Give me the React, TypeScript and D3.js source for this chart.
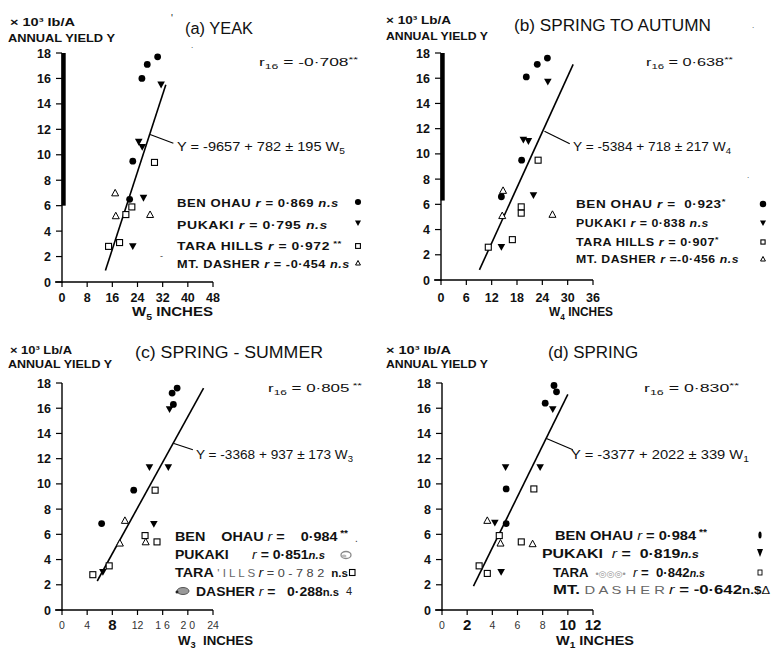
import React from "react";
import * as d3 from "d3";

const FONT = "'Liberation Sans', 'DejaVu Sans', Arial, sans-serif";

type Pt = [number, number];

// shared y axis
const yTicks = [0, 2, 4, 6, 8, 10, 12, 14, 16, 18];

// ---------- (a) YEAR, W5 ----------
const aXTicks = [0, 8, 16, 24, 32, 40, 48];
const aXTickLabels = ["0", "8", "16", "24", "32", "40", "48"];
const aBenOhau: Pt[] = [[27.1, 17.1], [30.4, 17.7], [25.4, 16.0], [22.5, 9.5], [21.5, 6.5]];
const aPukaki: Pt[] = [[31.5, 15.5], [24.4, 11.0], [25.5, 10.6], [25.9, 6.6], [22.5, 2.8]];
const aTaraHills: Pt[] = [[29.4, 9.4], [22.2, 5.9], [20.3, 5.3], [18.3, 3.1], [14.8, 2.8]];
const aMtDasher: Pt[] = [[16.9, 7.0], [17.1, 5.2], [28.0, 5.3]];
const aFit: Pt[] = [[13.8, 0.9], [33.0, 15.5]];
const aLeader: Pt[] = [[28.0, 11.6], [35.4, 10.9]];

// ---------- (b) SPRING TO AUTUMN, W4 ----------
const bXTicks = [0, 6, 12, 18, 24, 30, 36];
const bXTickLabels = ["0", "6", "12", "18", "24", "30", "36"];
const bBenOhau: Pt[] = [[20.2, 16.1], [22.8, 17.1], [25.2, 17.6], [19.1, 9.5], [14.3, 6.6]];
const bPukaki: Pt[] = [[25.3, 15.7], [19.5, 11.1], [20.7, 11.0], [21.9, 6.7], [14.3, 2.6]];
const bTaraHills: Pt[] = [[23.0, 9.5], [19.0, 5.8], [19.0, 5.3], [16.9, 3.2], [11.2, 2.6]];
const bMtDasher: Pt[] = [[14.7, 7.1], [14.5, 5.1], [26.4, 5.2]];
const bFit: Pt[] = [[9.1, 0.8], [31.3, 17.1]];
const bLeader: Pt[] = [[24.5, 11.8], [30.5, 10.8]];

// ---------- (c) SPRING - SUMMER, W3 ----------
const cXTicks = [0, 4, 8, 12, 16, 20, 24];
const cXTickLabels = ["0", "4", "8", "12", "1 6", "2 0", "24"];
const cXTickBig = [false, false, true, false, false, false, false];
const cBenOhau: Pt[] = [[18.3, 17.6], [17.5, 17.2], [17.7, 16.3], [11.4, 9.5], [6.3, 6.85]];
const cPukaki: Pt[] = [[17.1, 15.9], [13.9, 11.3], [16.9, 11.3], [14.6, 6.8], [6.5, 3.0]];
const cTaraHills: Pt[] = [[14.8, 9.5], [13.2, 5.9], [15.1, 5.4], [7.5, 3.5], [4.9, 2.8]];
const cMtDasher: Pt[] = [[10.0, 7.1], [9.2, 5.3], [13.3, 5.4]];
const cFit: Pt[] = [[5.6, 2.3], [22.5, 17.6]];
const cLeader: Pt[] = [[17.8, 13.2], [20.8, 12.7]];

// ---------- (d) SPRING, W1 ----------
const dXTicks = [0, 2, 4, 6, 8, 10, 12];
const dXTickLabels = ["0", "2", "4", "6", "8", "10", "12"];
const dXTickBig = [false, true, false, false, false, true, true];
const dBenOhau: Pt[] = [[8.9, 17.8], [9.1, 17.3], [8.2, 16.4], [5.1, 9.6], [5.1, 6.85]];
const dPukaki: Pt[] = [[8.8, 15.9], [5.05, 11.3], [7.8, 11.3], [4.2, 6.9], [4.7, 3.0]];
const dTaraHills: Pt[] = [[7.3, 9.6], [4.55, 5.9], [6.3, 5.4], [2.95, 3.5], [3.6, 2.9]];
const dMtDasher: Pt[] = [[3.6, 7.1], [4.65, 5.3], [7.2, 5.25]];
const dFit: Pt[] = [[2.5, 1.9], [10.0, 17.1]];
const dLeader: Pt[] = [[8.3, 13.6], [10.4, 12.7]];

type Seg = { t: string; sup?: boolean; sub?: boolean; fill?: string; w?: any; it?: boolean; fs?: number; ls?: number };

function Rich({ x, y, segs, fs, w = "normal", tl, anchor = "start", ls }: any) {
  let shift = 0;
  return (
    <text x={x} y={y} fontSize={fs} fontWeight={w} fontFamily={FONT} textAnchor={anchor} xmlSpace="preserve"
      style={{ whiteSpace: "pre" }}
      textLength={tl} lengthAdjust={tl ? "spacingAndGlyphs" : undefined} letterSpacing={ls} fill="#111">
      {(segs as Seg[]).map((s, i) => {
        const target = s.sup ? -0.38 * fs : s.sub ? 0.28 * fs : 0;
        const dy = target - shift;
        shift = target;
        return (
          <tspan key={i} dy={dy === 0 ? undefined : dy} fontSize={s.sup || s.sub ? fs * 0.7 : s.fs}
            fill={s.fill} fontWeight={s.w} fontStyle={s.it ? "italic" : undefined} letterSpacing={s.ls}>
            {s.t}
          </tspan>
        );
      })}
    </text>
  );
}

function Marker({ kind, cx, cy, s = 1 }: any) {
  if (kind === 0) return <circle cx={cx} cy={cy} r={3.4 * s} fill="#000" />;
  if (kind === 1)
    return <path d={`M${cx - 3.8 * s},${cy - 3.2 * s}L${cx + 3.8 * s},${cy - 3.2 * s}L${cx},${cy + 3.6 * s}Z`} fill="#000" />;
  if (kind === 2)
    return <rect x={cx - 3 * s} y={cy - 3 * s} width={6 * s} height={6 * s} fill="#fff" stroke="#000" strokeWidth={1.1} />;
  return <path d={`M${cx},${cy - 3.6 * s}L${cx + 3.5 * s},${cy + 2.9 * s}L${cx - 3.5 * s},${cy + 2.9 * s}Z`} fill="#fff" stroke="#000" strokeWidth={1} />;
}

function Plot({ xDomain, xRange, yRange, xTicks, xLabels, xBig, series, fit, leader, bar, labelDy = 15 }: any) {
  const x = d3.scaleLinear().domain(xDomain).range(xRange);
  const y = d3.scaleLinear().domain([0, 18]).range(yRange);
  const line = d3.line<Pt>().x((d) => x(d[0])).y((d) => y(d[1]));
  const x0 = x(xDomain[0]);
  return (
    <g>
      {bar && <rect x={x0 - 0.5} y={y(bar[0])} width={4.2} height={y(bar[1]) - y(bar[0])} fill="#000" />}
      <line x1={x0} x2={x0} y1={y(0) + 1} y2={y(18)} stroke="#000" strokeWidth={1.4} />
      <line x1={x0 - 7} x2={x(xDomain[1])} y1={y(0)} y2={y(0)} stroke="#000" strokeWidth={1.4} />
      {yTicks.map((v) => (
        <g key={v}>
          <line x1={x0 - 6} x2={x0} y1={y(v)} y2={y(v)} stroke="#000" strokeWidth={1.2} />
          <text x={x0 - 11} y={y(v)} dy="0.36em" textAnchor="end" fontFamily={FONT} fontWeight="bold" fontSize={12.5} fill="#111">
            {v}
          </text>
        </g>
      ))}
      {xTicks.map((v: number, i: number) => {
        const big = xBig ? xBig[i] : true;
        return (
          <g key={v}>
            <line x1={x(v)} x2={x(v)} y1={y(0)} y2={y(0) + 5} stroke="#000" strokeWidth={1.2} />
            <text x={x(v)} y={y(0) + labelDy} dy="0.36em" textAnchor="middle" fontFamily={FONT}
              fontWeight={big ? "bold" : "normal"} fontSize={xBig ? (big ? 15 : 10.5) : 12.5} fill={big ? "#111" : "#333"}>
              {xLabels[i]}
            </text>
          </g>
        );
      })}
      <path d={line(fit) || ""} stroke="#000" strokeWidth={1.6} fill="none" />
      <path d={line(leader) || ""} stroke="#000" strokeWidth={1.1} fill="none" />
      {series.map((pts: Pt[], k: number) =>
        pts.map((p, i) => <Marker key={k + "-" + i} kind={k} cx={x(p[0])} cy={y(p[1])} />)
      )}
    </g>
  );
}

const B = (c: number, fs: number) => c + fs * 0.36;

export default function App() {
  const lg = 11.5;
  const big = 13;
  return (
    <svg width={772} height={652} style={{ display: "block", position: "absolute", left: 0, top: 0, background: "#fff" }}>
      <rect width={772} height={652} fill="#fff" />
      {/* ---------------- (a) ---------------- */}
      <Plot xDomain={[0, 48]} xRange={[62, 213]} yRange={[282, 53]} xTicks={aXTicks} xLabels={aXTickLabels}
        series={[aBenOhau, aPukaki, aTaraHills, aMtDasher]} fit={aFit} leader={aLeader} bar={[18, 6]} />
      <Rich x={10} y={B(22, 11)} fs={11} w="bold" tl={65} segs={[{ t: "× 10³ lb/A" }]} />
      <Rich x={8} y={B(38, 11)} fs={11} w="bold" tl={107} segs={[{ t: "ANNUAL YIELD Y" }]} />
      <Rich x={185} y={B(28, 16)} fs={16} tl={68} segs={[{ t: "(a) YEAK" }]} />
      <Rich x={259} y={B(62, 11.5)} fs={11.5} tl={99} segs={[{ t: "r" }, { t: "16", sub: true }, { t: " = -0·708" }, { t: "**", sup: true }]} />
      <Rich x={177} y={B(146, 13)} fs={13} tl={168} segs={[{ t: "Y = -9657 + 782 ± 195 W" }, { t: "5", sub: true }]} />
      <Rich x={177} y={B(203, lg)} fs={lg} w="bold" tl={162} ls={0.5} segs={[{ t: "BEN OHAU " }, { t: "r", it: true }, { t: " = 0·869 " }, { t: "n.s", it: true }]} />
      <Rich x={177} y={B(225, lg)} fs={lg} w="bold" tl={151} ls={0.5} segs={[{ t: "PUKAKI " }, { t: "r", it: true }, { t: " = 0·795 " }, { t: "n.s", it: true }]} />
      <Rich x={177} y={B(246, lg)} fs={lg} w="bold" tl={165} ls={0.5} segs={[{ t: "TARA HILLS " }, { t: "r", it: true }, { t: " = 0·972" }, { t: " **", sup: true }]} />
      <Rich x={177} y={B(264, lg)} fs={lg} w="bold" tl={173} ls={0.5} segs={[{ t: "MT. DASHER " }, { t: "r", it: true }, { t: " = -0·454 " }, { t: "n.s", it: true }]} />
      <Marker kind={0} cx={358} cy={202} s={0.9} />
      <Marker kind={1} cx={358} cy={223} s={0.8} />
      <Marker kind={2} cx={358} cy={246} s={0.8} />
      <Marker kind={3} cx={358} cy={263} s={0.7} />
      <Rich x={132} y={B(312, 12)} fs={12} w="bold" tl={81} segs={[{ t: "W" }, { t: "5", sub: true }, { t: " INCHES" }]} />
      <text x={171} y={22} fontFamily={FONT} fontSize={10} fill="#222">'</text>
      <text x={191} y={48} fontFamily={FONT} fontSize={8} fill="#222">.</text>
      <text x={160} y={259} fontFamily={FONT} fontSize={9} fill="#444">-</text>

      {/* ---------------- (b) ---------------- */}
      <Plot xDomain={[0, 36]} xRange={[441, 593]} yRange={[280, 53]} xTicks={bXTicks} xLabels={bXTickLabels}
        series={[bBenOhau, bPukaki, bTaraHills, bMtDasher]} fit={bFit} leader={bLeader} bar={[18, 6.3]} labelDy={17} />
      <Rich x={386} y={B(20, 11)} fs={11} w="bold" tl={65} segs={[{ t: "× 10³ Lb/A" }]} />
      <Rich x={386} y={B(36, 11)} fs={11} w="bold" tl={102} segs={[{ t: "ANNUAL YIELD Y" }]} />
      <Rich x={514} y={B(25, 16)} fs={16} tl={197} segs={[{ t: "(b) SPRING TO AUTUMN" }]} />
      <Rich x={646} y={B(62, 11.5)} fs={11.5} tl={87} segs={[{ t: "r" }, { t: "16", sub: true }, { t: " = 0·638" }, { t: "**", sup: true }]} />
      <Rich x={573} y={B(146, 13)} fs={13} tl={158} segs={[{ t: "Y = -5384 + 718 ± 217 W" }, { t: "4", sub: true }]} />
      <Rich x={576} y={B(204, lg)} fs={lg} w="bold" tl={150} ls={0.5} segs={[{ t: "BEN OHAU " }, { t: "r", it: true }, { t: " =  0·923" }, { t: "*", sup: true }]} />
      <Rich x={576} y={B(223, lg)} fs={lg} w="bold" tl={133} ls={0.5} segs={[{ t: "PUKAKI " }, { t: "r", it: true }, { t: " = 0·838 " }, { t: "n.s", it: true }]} />
      <Rich x={576} y={B(242, lg)} fs={lg} w="bold" tl={143} ls={0.5} segs={[{ t: "TARA HILLS " }, { t: "r", it: true }, { t: " = 0·907" }, { t: "*", sup: true }]} />
      <Rich x={576} y={B(259, lg)} fs={lg} w="bold" tl={163} ls={0.5} segs={[{ t: "MT. DASHER " }, { t: "r", it: true }, { t: " =-0·456 " }, { t: "n.s", it: true }]} />
      <Marker kind={0} cx={763} cy={204} s={0.95} />
      <Marker kind={1} cx={763} cy={223} s={0.8} />
      <Marker kind={2} cx={763} cy={242} s={0.7} />
      <Marker kind={3} cx={763} cy={259} s={0.7} />
      <Rich x={549} y={B(312, 12)} fs={12} w="bold" tl={64} segs={[{ t: "W" }, { t: "4", sub: true }, { t: " INCHES" }]} />
      <text x={752} y={28} fontFamily={FONT} fontSize={8} fill="#333">.</text>
      <text x={747} y={178} fontFamily={FONT} fontSize={8} fill="#333">.</text>

      {/* ---------------- (c) ---------------- */}
      <Plot xDomain={[0, 24]} xRange={[62, 213]} yRange={[610, 383]} xTicks={cXTicks} xLabels={cXTickLabels} xBig={cXTickBig}
        series={[cBenOhau, cPukaki, cTaraHills, cMtDasher]} fit={cFit} leader={cLeader} />
      <Rich x={10} y={B(350, 11)} fs={11} w="bold" tl={62} segs={[{ t: "× 10³ Lb/A" }]} />
      <Rich x={8} y={B(364, 11)} fs={11} w="bold" tl={104} segs={[{ t: "ANNUAL YIELD Y" }]} />
      <Rich x={135} y={B(352, 16)} fs={16} tl={188} segs={[{ t: "(c) SPRING - SUMMER" }]} />
      <Rich x={268} y={B(388, 11.5)} fs={11.5} tl={94} segs={[{ t: "r" }, { t: "16", sub: true }, { t: " = 0·805" }, { t: " **", sup: true }]} />
      <Rich x={196} y={B(454, 13)} fs={13} tl={157} segs={[{ t: "Y = -3368 + 937 ± 173 W" }, { t: "3", sub: true }]} />
      <Rich x={175} y={B(536, big)} fs={big} w="bold" tl={173} segs={[{ t: "BEN    OHAU " }, { t: "r", it: true, w: "normal" }, { t: " =    0·984" }, { t: " **", sup: true }]} />
      <text x={355} y={B(538, 10)} fontFamily={FONT} fontSize={10} fill="#333">.</text>
      <Rich x={175} y={B(554.5, big)} fs={big} w="bold" tl={150} segs={[{ t: "PUKAKI      " }, { t: "r", it: true, w: "normal" }, { t: " = 0·851" }, { t: "n.s", it: true, fs: 10.5 }]} />
      <ellipse cx={346} cy={555} rx={5} ry={3.5} fill="none" stroke="#888" strokeWidth={1.3} />
      <ellipse cx={344} cy={556} rx={2.5} ry={1.6} fill="#bbb" />
      <Rich x={175} y={B(572.5, big)} fs={big} w="bold" tl={173} segs={[{ t: "TARA " }, { t: "' I L L S ", w: "normal", fill: "#666", fs: 10.5 }, { t: "r", it: true, w: "normal" }, { t: " = 0 - 7 8 2  ", w: "normal", fill: "#444", fs: 11.5 }, { t: "n.s", fs: 10.5 }]} />
      <rect x={349.5} y={569.5} width={5.5} height={6} fill="#fff" stroke="#000" strokeWidth={1.1} />
      <ellipse cx={183} cy={591} rx={6} ry={3.5} fill="#999" stroke="#555" strokeWidth={1} />
      <circle cx={177} cy={592} r={1.5} fill="#222" />
      <Rich x={196} y={B(591, big)} fs={big} w="bold" tl={143} segs={[{ t: "DASHER " }, { t: "r", it: true, w: "normal" }, { t: " =   0·288" }, { t: "n.s", fs: 10.5 }]} />
      <text x={346} y={B(591, 11)} fontFamily={FONT} fontSize={11} fill="#222">4</text>
      <Rich x={178} y={B(640, 13)} fs={13} w="bold" tl={75} segs={[{ t: "W" }, { t: "3", sub: true }, { t: "  INCHES" }]} />

      {/* ---------------- (d) ---------------- */}
      <Plot xDomain={[0, 12]} xRange={[442, 593]} yRange={[610, 383]} xTicks={dXTicks} xLabels={dXTickLabels} xBig={dXTickBig}
        series={[dBenOhau, dPukaki, dTaraHills, dMtDasher]} fit={dFit} leader={dLeader} />
      <Rich x={386} y={B(350, 11)} fs={11} w="bold" tl={65} segs={[{ t: "× 10³ lb/A" }]} />
      <Rich x={386} y={B(364, 11)} fs={11} w="bold" tl={102} segs={[{ t: "ANNUAL YIELD Y" }]} />
      <Rich x={548} y={B(352, 16)} fs={16} tl={90} segs={[{ t: "(d) SPRING" }]} />
      <Rich x={644} y={B(388, 11.5)} fs={11.5} tl={95} segs={[{ t: "r" }, { t: "16", sub: true }, { t: " = 0·830" }, { t: "**", sup: true }]} />
      <Rich x={571} y={B(454, 13)} fs={13} tl={178} segs={[{ t: "Y = -3377 + 2022 ± 339 W" }, { t: "1", sub: true }]} />
      <Rich x={555} y={B(535, big)} fs={big} w="bold" tl={152} segs={[{ t: "BEN OHAU " }, { t: "r", it: true, w: "normal" }, { t: " = 0·984" }, { t: " **", sup: true }]} />
      <ellipse cx={760} cy={535} rx={1.6} ry={3.5} fill="#000" />
      <Rich x={542} y={B(553, big)} fs={big} w="bold" tl={157} segs={[{ t: "PUKAKI  " }, { t: "r", it: true, w: "normal" }, { t: " =  0·819" }, { t: "n.s", it: true, fs: 10.5 }]} />
      <path d="M757,549L763,549L760,557Z" fill="#000" />
      <Rich x={553} y={B(572, big)} fs={big} w="bold" tl={152} segs={[{ t: "TARA  " }, { t: "•◎◎◎•", w: "normal", fill: "#999", fs: 9 }, { t: "  " }, { t: "r", it: true, w: "normal" }, { t: " =  0·842" }, { t: "n.s", it: true, fs: 10.5 }]} />
      <rect x={758} y={570} width={4} height={5} fill="#fff" stroke="#000" strokeWidth={0.9} />
      <Rich x={553} y={B(589, big)} fs={big} w="bold" tl={217} segs={[{ t: "MT. " }, { t: "D A S H E R ", w: "normal", fill: "#666", fs: 11.5 }, { t: "r", it: true, w: "normal" }, { t: " = -0·642" }, { t: "n.$", fs: 10.5 }, { t: "Δ", w: "normal", fs: 10 }]} />
      <Rich x={556} y={B(640, 13)} fs={13} w="bold" tl={78} segs={[{ t: "W" }, { t: "1", sub: true }, { t: " INCHES" }]} />
    </svg>
  );
}
